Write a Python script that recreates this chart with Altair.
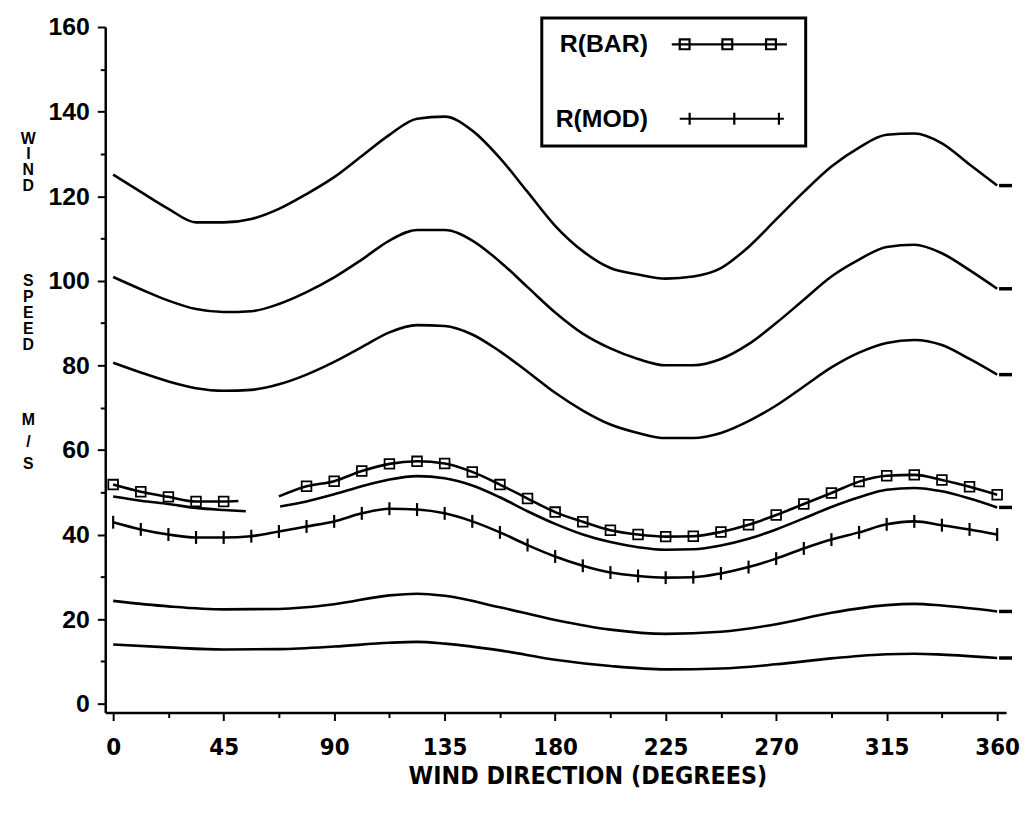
import altair as alt
import pandas as pd

# ---------------- data ----------------
DEG = [0, 11.25, 22.5, 33.75, 45, 56.25, 67.5, 78.75, 90, 101.25, 112.5, 123.75,
       135, 146.25, 157.5, 168.75, 180, 191.25, 202.5, 213.75, 225, 236.25, 247.5,
       258.75, 270, 281.25, 292.5, 303.75, 315, 326.25, 337.5, 348.75, 360]

CURVE1 = [125.1, 121.0, 117.0, 113.8, 113.8, 114.6, 117.0, 120.5, 124.5, 129.5, 134.5,
          138.3, 138.8, 135.5, 129.0, 121.0, 113.0, 107.0, 103.0, 101.5, 100.5, 101.0,
          103.0, 108.0, 114.5, 121.0, 127.0, 131.5, 134.5, 134.8, 132.5, 127.5, 122.5]
CURVE2 = [100.9, 98.0, 95.3, 93.3, 92.6, 92.8, 94.5, 97.3, 100.8, 105.0, 109.5, 112.0,
          112.0, 109.5, 104.5, 98.5, 92.5, 87.5, 84.0, 81.5, 80.0, 80.0, 81.5, 85.0, 90.0,
          95.5, 101.0, 105.0, 108.0, 108.5, 106.5, 102.5, 98.1]
CURVE3 = [80.6, 78.3, 76.2, 74.6, 74.0, 74.2, 75.5, 77.8, 80.8, 84.3, 87.8, 89.5, 89.3,
          87.3, 83.3, 78.5, 73.5, 69.3, 66.0, 64.0, 62.8, 62.8, 64.0, 66.8, 70.5, 75.0,
          79.5, 83.0, 85.3, 86.0, 84.8, 81.5, 77.8]

# curve just under R(BAR) (broken between ~54 and ~68 degrees)
CURVE4_DEG = [0, 11.25, 22.5, 33.75, 45, 54, 68, 78.75, 90, 101.25, 112.5, 123.75,
              135, 146.25, 157.5, 168.75, 180, 191.25, 202.5, 213.75, 225, 236.25, 247.5,
              258.75, 270, 281.25, 292.5, 303.75, 315, 326.25, 337.5, 348.75, 360]
CURVE4 = [49.0, 48.0, 47.2, 46.3, 45.8, 45.5, 46.6, 47.8, 49.5, 51.4, 53.0, 53.8, 53.3,
          51.6, 48.8, 45.5, 42.5, 40.0, 38.2, 37.0, 36.4, 36.5, 37.4, 39.0, 41.2, 43.8,
          46.5, 48.8, 50.6, 51.0, 50.2, 48.5, 46.4]
CURVE4_SEG = [1, 1, 1, 1, 1, 1] + [2] * 27

# R(BAR): broken between ~51 and ~67.5 degrees
RBAR_DEG = [0, 11.25, 22.5, 33.75, 45, 51, 67.5, 78.75, 90, 101.25, 112.5, 123.75,
            135, 146.25, 157.5, 168.75, 180, 191.25, 202.5, 213.75, 225, 236.25, 247.5,
            258.75, 270, 281.25, 292.5, 303.75, 315, 326.25, 337.5, 348.75, 360]
RBAR = [51.8, 50.1, 48.9, 47.8, 47.8, 47.9, 49.0, 51.4, 52.6, 55.0, 56.7, 57.3, 56.8,
        54.8, 51.8, 48.5, 45.3, 43.0, 41.0, 40.0, 39.5, 39.6, 40.6, 42.3, 44.6, 47.2,
        49.8, 52.5, 53.9, 54.1, 52.9, 51.3, 49.4]
RBAR_SEG = [1, 1, 1, 1, 1, 1] + [2] * 27
RBAR_MARK = [1, 1, 1, 1, 1, 0, 0] + [1] * 26

RMOD = [42.9, 41.2, 40.0, 39.3, 39.3, 39.6, 40.7, 41.9, 43.1, 45.0, 46.1, 45.9, 45.0,
        43.1, 40.5, 37.5, 34.8, 32.6, 31.0, 30.2, 29.8, 29.9, 30.8, 32.3, 34.3, 36.7,
        38.8, 40.5, 42.4, 43.1, 42.2, 41.2, 40.0]

LOW_DEG = [0, 22.5, 45, 67.5, 90, 112.5, 123.75, 135, 157.5, 180, 202.5, 225, 247.5,
           270, 292.5, 315, 326.25, 337.5, 360]
CURVE5 = [24.3, 23.0, 22.3, 22.4, 23.5, 25.6, 26.0, 25.5, 22.8, 19.8, 17.5, 16.5, 17.0,
          18.8, 21.5, 23.3, 23.6, 23.2, 21.8]
CURVE6 = [14.0, 13.3, 12.8, 12.9, 13.5, 14.4, 14.6, 14.2, 12.6, 10.4, 8.9, 8.1, 8.3,
          9.3, 10.7, 11.7, 11.8, 11.6, 10.8]

X_TICKS = [0, 45, 90, 135, 180, 225, 270, 315, 360]
X_MINOR = [22.5, 67.5, 112.5, 157.5, 202.5, 247.5, 292.5, 337.5]
Y_TICKS = [0, 20, 40, 60, 80, 100, 120, 140, 160]
Y_MINOR = [10, 30, 50, 70, 90, 110, 130, 150]
END_DASH_X = 363.4

# stacked y-axis title, in three words
TITLE_WORD1 = ["W", "I", "N", "D"]
TITLE_WORD2 = ["S", "P", "E", "E", "D"]
TITLE_WORD3 = ["M", "/", "S"]

# ---------------- tables ----------------
rows = []


def add(series, degs, vals, segs=None, marks=None):
    for i, (d, v) in enumerate(zip(degs, vals)):
        seg = segs[i] if segs else 1
        rows.append({"series": series, "deg": d, "val": v,
                     "key": f"{series}-{seg}",
                     "mark": marks[i] if marks else 1})


add("C1", DEG, CURVE1)
add("C2", DEG, CURVE2)
add("C3", DEG, CURVE3)
add("C4", CURVE4_DEG, CURVE4, CURVE4_SEG)
add("R(BAR)", RBAR_DEG, RBAR, RBAR_SEG, RBAR_MARK)
add("R(MOD)", DEG, RMOD)
add("C5", LOW_DEG, CURVE5)
add("C6", LOW_DEG, CURVE6)
df = pd.DataFrame(rows)

ends = pd.DataFrame({
    "series": ["C1", "C2", "C3", "C4", "C5", "C6"],
    "val": [CURVE1[-1], CURVE2[-1], CURVE3[-1], CURVE4[-1], CURVE5[-1], CURVE6[-1]],
})
ends["deg"] = END_DASH_X

xs = alt.Scale(domain=[-3.23, 363.64], nice=False, zero=False)
ys = alt.Scale(domain=[-2.11, 160], nice=False, zero=False)

TITLE_STYLE = dict(titleAngle=0, titleX=-78, titleBaseline="middle", titleAlign="center",
                   titleFont="Liberation Sans", titleFontSize=16, titleFontWeight="bold")

x_axis = alt.Axis(values=X_TICKS, format="d", title="WIND DIRECTION (DEGREES)",
                  titleFont="DejaVu Sans Condensed", titleFontSize=25, titleFontWeight="bold",
                  titleX=486, titleY=63, titleBaseline="middle", titleAlign="center",
                  labelFont="DejaVu Sans Condensed", labelFontSize=24, labelFontWeight="bold",
                  labelPadding=15, tickSize=8, tickWidth=2, domainWidth=2.5,
                  labelFlush=False, labelOverlap=False, grid=False)
y_axis = alt.Axis(values=Y_TICKS, format="d", title=TITLE_WORD1, titleY=112,
                  titleLineHeight=16, **TITLE_STYLE,
                  labelFont="Liberation Sans", labelFontSize=25, labelFontWeight="bold",
                  labelPadding=8, tickSize=8, tickWidth=2, domainWidth=2.5,
                  labelFlush=False, labelOverlap=False, grid=False)

base = alt.Chart(df)

lines = base.mark_line(color="black", strokeWidth=2.6, interpolate="monotone").encode(
    x=alt.X("deg:Q", scale=xs, axis=x_axis),
    y=alt.Y("val:Q", scale=ys, axis=y_axis),
    detail="key:N",
)

squares = base.transform_filter(
    "datum.series == 'R(BAR)' && datum.mark == 1"
).mark_point(shape="square", size=95, filled=False, color="black",
             strokeWidth=1.8, opacity=1).encode(
    x=alt.X("deg:Q", scale=xs, axis=None),
    y=alt.Y("val:Q", scale=ys, axis=None),
)

crosses = base.transform_filter("datum.series == 'R(MOD)'").mark_point(
    shape="M0,-1V1", size=169, filled=False, color="black", strokeWidth=2.2, opacity=1
).encode(
    x=alt.X("deg:Q", scale=xs, axis=None),
    y=alt.Y("val:Q", scale=ys, axis=None),
)

end_marks = alt.Chart(ends).mark_tick(orient="horizontal", size=13, thickness=3.5,
                                       color="black", opacity=1).encode(
    x=alt.X("deg:Q", scale=xs, axis=None),
    y=alt.Y("val:Q", scale=ys, axis=None),
)

# legend key glyphs drawn to the right of their labels
BAR_PATH = ("M9.5,0H20.05M10.23,-0.45H11.13V0.45H10.23ZM14.14,-0.45H15.04V0.45H14.14Z"
            "M18.14,-0.45H19.04V0.45H18.14Z")
MOD_PATH = "M10.23,0H19.77M11.14,-0.55V0.55M15.23,-0.55V0.55M19.32,-0.55V0.55"

legend_layer = base.transform_filter("false").mark_point(
    color="black", filled=False
).encode(
    x=alt.X("deg:Q", scale=xs, axis=None),
    y=alt.Y("val:Q", scale=ys, axis=None),
    shape=alt.Shape("series:N",
                    scale=alt.Scale(domain=["R(BAR)", "R(MOD)"], range=[BAR_PATH, MOD_PATH]),
                    legend=alt.Legend(
                        title=None, orient="none", legendX=440, legendY=-9,
                        direction="vertical", padding=14, strokeColor="black",
                        symbolSize=484, symbolStrokeWidth=2.2, symbolStrokeColor="black",
                        symbolFillColor="transparent", symbolOpacity=1,
                        labelOffset=68, labelAlign="right",
                        labelFont="Liberation Sans", labelFontSize=25, labelFontWeight="bold",
                        labelColor="black", labelLimit=0, rowPadding=49,
                    )),
)

minor = base.transform_filter("false").mark_point().encode(
    x=alt.X("deg:Q", scale=xs,
            axis=alt.Axis(orient="bottom", values=X_MINOR, labels=False, domain=False,
                          tickSize=5, tickWidth=2, title=None, grid=False)),
    y=alt.Y("val:Q", scale=ys,
            axis=alt.Axis(orient="left", values=Y_MINOR, labels=False, domain=False,
                          tickSize=5, tickWidth=2, grid=False,
                          title=TITLE_WORD2, titleY=256, titleLineHeight=16,
                          **TITLE_STYLE)),
)

units_title = base.transform_filter("false").mark_point().encode(
    y=alt.Y("val:Q", scale=ys,
            axis=alt.Axis(orient="left", labels=False, ticks=False, domain=False,
                          grid=False, title=TITLE_WORD3, titleY=396, titleLineHeight=22,
                          **TITLE_STYLE)),
)

chart = alt.layer(lines, squares, crosses, end_marks, legend_layer, minor,
                  units_title).resolve_axis(
    x="independent", y="independent"
).properties(
    width=908, height=691,
    autosize=alt.AutoSizeParams(type="none"),
    padding={"left": 98, "top": 16, "right": 15, "bottom": 90},
    background="white",
).configure_view(stroke=None).configure_axis(
    domainColor="black", tickColor="black", labelColor="black", titleColor="black",
    grid=False,
).configure_legend(strokeWidth=3)

chart.save("out.html", embed_options={"renderer": "svg", "actions": False})
